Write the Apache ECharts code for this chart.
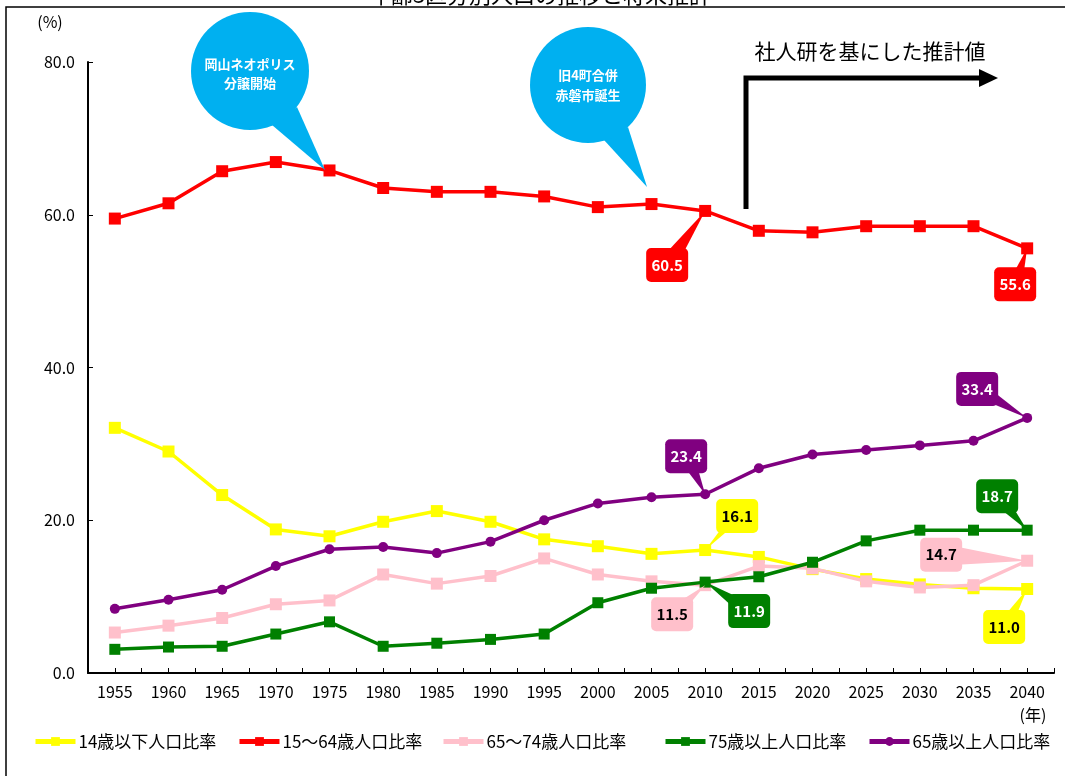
<!DOCTYPE html>
<html><head><meta charset="utf-8">
<script src="https://cdn.jsdelivr.net/npm/echarts@6/dist/echarts.min.js"></script>
<style>html,body{margin:0;padding:0;background:#fff}#c{width:1065px;height:776px}</style>
</head><body><div id="c"></div>
<script>
// ---- data ----
const years = [1955,1960,1965,1970,1975,1980,1985,1990,1995,2000,2005,2010,2015,2020,2025,2030,2035,2040];
const seriesNames = ['14歳以下人口比率','15～64歳人口比率','65～74歳人口比率','75歳以上人口比率','65歳以上人口比率'];
const under14   = [32.1,29.0,23.3,18.8,17.9,19.8,21.2,19.8,17.5,16.6,15.6,16.1,15.2,13.6,12.3,11.6,11.1,11.0];
const age15to64 = [59.5,61.5,65.7,66.9,65.8,63.5,63.0,63.0,62.4,61.0,61.4,60.5,57.9,57.7,58.5,58.5,58.5,55.6];
const age65to74 = [5.3,6.2,7.2,9.0,9.5,12.9,11.7,12.7,15.0,12.9,12.0,11.5,14.0,13.7,12.0,11.2,11.5,14.7];
const age75plus = [3.1,3.4,3.5,5.1,6.7,3.5,3.9,4.4,5.1,9.2,11.1,11.9,12.6,14.5,17.3,18.7,18.7,18.7];
const age65plus = [8.4,9.6,10.9,14.0,16.2,16.5,15.7,17.2,20.0,22.2,23.0,23.4,26.8,28.6,29.2,29.8,30.4,33.4];
const yTicks = [0,20,40,60,80];
const titleText = '年齢3区分別人口の推移と将来推計';
const bubble1Lines = ['岡山ネオポリス','分譲開始'];
const bubble2Lines = ['旧4町合併','赤磐市誕生'];
const projectionText = '社人研を基にした推計値';

// ---- chart ----
const FONT = "'Noto Sans CJK JP', 'Noto Sans', sans-serif";
const chart = echarts.init(document.getElementById('c'));
const colors = ['#FFFF00','#FF0000','#FFC0CB','#008000','#800080'];
const arrays = [under14, age15to64, age65to74, age75plus, age65plus];
const symbols = ['rect','rect','rect','rect','circle'];
const symSizes = [12,12,12,11,10];
const legendLefts = [28,232,436,658,862];

const series = arrays.map((arr,k)=>({
  name: seriesNames[k], type:'line',
  data: arr.map((v,i)=>[years[i], v]),
  symbol: symbols[k], symbolSize: symSizes[k], showSymbol:true,
  lineStyle:{color:colors[k], width:3.5},
  itemStyle:{color:colors[k]},
  z: 2+k
}));

const legends = seriesNames.map((n,k)=>({
  left: legendLefts[k], top: 728, data:[n],
  itemWidth:40, itemHeight:11, itemGap:0,
  lineStyle:{width:5},
  textStyle:{fontSize:17, color:'#000', fontFamily:FONT, padding:[0,0,0,-2]}
}));

chart.setOption({
  animation:false,
  grid:{left:88, right:11, top:62, bottom:103},
  xAxis:{type:'value', min:1952.5, max:2042.5, interval:2.5,
    axisLine:{lineStyle:{color:'#000', width:2}},
    axisTick:{inside:true, length:5, lineStyle:{color:'#000', width:1}},
    axisLabel:{color:'#000', fontSize:16, margin:11, fontFamily:FONT,
      formatter: v => (Math.abs(v%5)<1e-6 && years.indexOf(Math.round(v))>=0) ? String(Math.round(v)) : ''},
    splitLine:{show:false}},
  yAxis:{type:'value', min:yTicks[0], max:yTicks[yTicks.length-1], interval:20,
    axisLine:{show:true, lineStyle:{color:'#000', width:2}},
    axisTick:{show:true, inside:true, length:5, lineStyle:{color:'#000'}},
    axisLabel:{color:'#000', fontSize:16, margin:13, fontFamily:FONT, formatter: v => v.toFixed(1)},
    splitLine:{show:false}},
  legend: legends,
  series: series
});

// ---- annotations ----
const P = (yr, v) => chart.convertToPixel({gridIndex:0}, [yr, v]);
const g = [];
function txt(x,y,text,font,fill,align,z){
  g.push({type:'text', x:x, y:y, z:z||120, style:{text:text, font:font, fill:fill,
    align:align||'center', verticalAlign:'middle', textAlign:align||'center', textVerticalAlign:'middle'}});
}
// frame + title
g.push({type:'polyline', z:0, shape:{points:[[6,790],[6,7],[1080,7]]}, style:{fill:'none', stroke:'#000', lineWidth:1.5}, silent:true});
g.push({type:'text', x:540, y:6, z:1, style:{text:titleText, font:'22px '+FONT, fill:'#000', align:'center', verticalAlign:'bottom', textAlign:'center', textVerticalAlign:'bottom'}});
txt(50,22,'(%)','16px '+FONT,'#000');
txt(1033,715,'(年)','16px '+FONT,'#000');

// callouts
const callouts = [
  {arr:age15to64, yr:2010, dx:-38, dy:54, fill:'#FF0000', tc:'#fff', w:18},
  {arr:age15to64, yr:2040, dx:-12, dy:36, fill:'#FF0000', tc:'#fff', w:14},
  {arr:age65plus, yr:2040, dx:-50, dy:-29, fill:'#800080', tc:'#fff', w:16},
  {arr:age65plus, yr:2010, dx:-19, dy:-38, fill:'#800080', tc:'#fff', w:16},
  {arr:under14,  yr:2010, dx:32, dy:-34, fill:'#FFFF00', tc:'#000', w:10},
  {arr:age65to74, yr:2010, dx:-33, dy:29, fill:'#FFC0CB', tc:'#000', w:14},
  {arr:age75plus, yr:2010, dx:44, dy:29, fill:'#008000', tc:'#fff', w:16},
  {arr:age75plus, yr:2040, dx:-30, dy:-34, fill:'#008000', tc:'#fff', w:16},
  {arr:age65to74, yr:2040, dx:-86, dy:-6, fill:'#FFC0CB', tc:'#000', w:22},
  {arr:under14,  yr:2040, dx:-23, dy:38, fill:'#FFFF00', tc:'#000', w:14}
];
callouts.forEach(c=>{
  const i = years.indexOf(c.yr);
  const v = c.arr[i];
  const p = P(c.yr, v);
  const cx = p[0]+c.dx, cy = p[1]+c.dy;
  const vx = p[0]-cx, vy = p[1]-cy, L = Math.hypot(vx,vy);
  const px = -vy/L*c.w/2, py = vx/L*c.w/2;
  g.push({type:'polygon', z:110, shape:{points:[[p[0],p[1]],[cx+px,cy+py],[cx-px,cy-py]]}, style:{fill:c.fill}});
  g.push({type:'rect', z:111, shape:{x:cx-21,y:cy-17,width:42,height:34,r:5}, style:{fill:c.fill}});
  txt(cx, cy, v.toFixed(1), 'bold 15px '+FONT, c.tc, 'center', 112);
});

// speech bubbles
function bubble(cx,cy,r,b1,b2,tip,lines,ly){
  g.push({type:'polygon', z:100, shape:{points:[[cx+b1[0],cy+b1[1]],[cx+b2[0],cy+b2[1]],tip]}, style:{fill:'#00B0F0'}});
  g.push({type:'circle', z:100, shape:{cx:cx,cy:cy,r:r}, style:{fill:'#00B0F0'}});
  lines.forEach((t,k)=>txt(cx, ly[k], t, 'bold 13px '+FONT, '#fff', 'center', 101));
}
bubble(250,71,59,[22,54],[47,36],[325,170],bubble1Lines,[64,83]);
bubble(588,85,58,[16,55],[40,42],[647,187],bubble2Lines,[75,95]);

// projection arrow
g.push({type:'polyline', z:100, shape:{points:[[746,209],[746,78],[982,78]]}, style:{stroke:'#000', lineWidth:5, fill:'none'}});
g.push({type:'polygon', z:100, shape:{points:[[979,69],[998,78],[979,87]]}, style:{fill:'#000'}});
txt(870,51,projectionText,'21px '+FONT,'#000','center',100);

chart.setOption({graphic:{elements:g}});
</script>
</body></html>
